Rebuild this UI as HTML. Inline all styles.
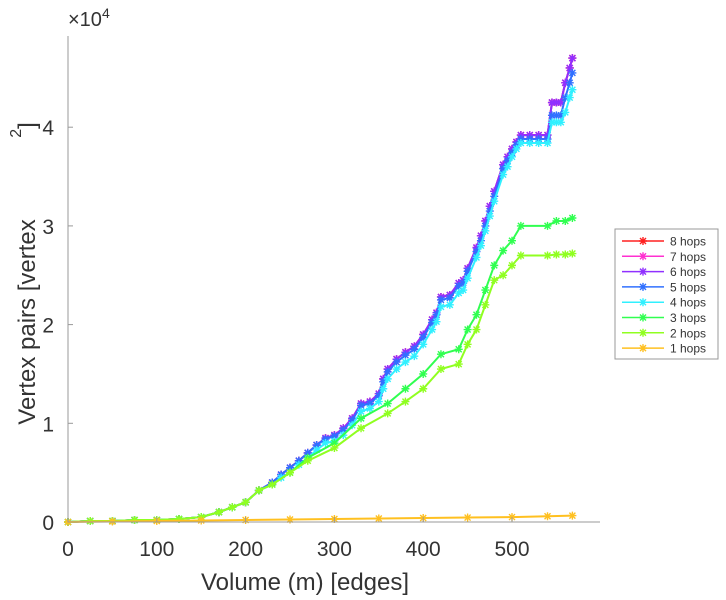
<!DOCTYPE html>
<html><head><meta charset="utf-8"><style>
body{margin:0;background:#fff;}
svg{display:block;font-family:"Liberation Sans",sans-serif;}
</style></head><body>
<svg id="chart" width="726" height="600">
<g id="plot"></g>
</svg>
<script>
const xTicks=[0,100,200,300,400,500];
const yTicks=[0,1,2,3,4];
const seriesNames=["8 hops","7 hops","6 hops","5 hops","4 hops","3 hops","2 hops","1 hops"];
const seriesColors=["#ff2020","#ff30d0","#9030ff","#3070ff","#30f0ff","#30ff50","#90ff20","#ffc020"];
const xUpper=[0,25,50,75,100,125,150,170,185,200,215,230,240,250,260,270,280,290,300,310,320,330,340,350,355,360,370,380,390,400,410,415,420,430,440,445,450,460,465,470,475,480,490,495,500,505,510,520,530,540,545,550,555,560,565,568];
const s8=[0,0.01,0.01,0.02,0.02,0.03,0.05,0.1,0.15,0.2,0.32,0.4,0.48,0.55,0.62,0.7,0.78,0.85,0.88,0.95,1.05,1.2,1.22,1.3,1.45,1.55,1.65,1.72,1.78,1.9,2.05,2.12,2.28,2.3,2.42,2.45,2.57,2.78,2.9,3.05,3.2,3.35,3.62,3.7,3.78,3.85,3.92,3.92,3.92,3.92,4.25,4.25,4.25,4.45,4.6,4.7];
const s7=s8.slice();
const s6=s8.slice();
const s5=[0,0.01,0.01,0.02,0.02,0.03,0.05,0.1,0.15,0.2,0.32,0.4,0.48,0.55,0.62,0.7,0.78,0.84,0.87,0.93,1.03,1.18,1.2,1.28,1.42,1.52,1.62,1.69,1.75,1.87,2.02,2.1,2.25,2.27,2.39,2.42,2.54,2.74,2.85,3.0,3.15,3.3,3.58,3.66,3.74,3.82,3.88,3.88,3.88,3.88,4.12,4.12,4.12,4.3,4.45,4.55];
const s4=[0,0.01,0.01,0.02,0.02,0.03,0.05,0.1,0.15,0.2,0.32,0.38,0.45,0.5,0.58,0.65,0.73,0.8,0.82,0.88,0.98,1.12,1.15,1.22,1.35,1.45,1.55,1.62,1.68,1.8,1.95,2.03,2.18,2.2,2.32,2.35,2.47,2.68,2.8,2.95,3.1,3.25,3.52,3.6,3.7,3.78,3.84,3.84,3.84,3.84,4.05,4.05,4.05,4.15,4.3,4.38];
const x3=[0,25,50,75,100,125,150,170,185,200,215,230,250,270,300,330,360,380,400,420,440,450,460,470,480,490,500,510,540,550,560,568];
const s3=[0,0.01,0.01,0.02,0.02,0.03,0.05,0.1,0.15,0.2,0.32,0.38,0.5,0.65,0.8,1.05,1.2,1.35,1.5,1.7,1.75,1.95,2.1,2.35,2.6,2.75,2.85,3.0,3.0,3.05,3.05,3.08];
const s2=[0,0.01,0.01,0.02,0.02,0.03,0.05,0.1,0.15,0.2,0.32,0.38,0.5,0.62,0.75,0.95,1.1,1.22,1.35,1.55,1.6,1.8,1.95,2.2,2.45,2.5,2.6,2.7,2.7,2.71,2.71,2.72];
const x1=[0,50,100,150,200,250,300,350,400,450,500,540,568];
const s1=[0,0.005,0.01,0.015,0.02,0.025,0.03,0.035,0.04,0.045,0.05,0.058,0.065];
const X0=68,X1=600,Y0=522,Y1=36;
const xs=v=>X0+v*0.888;
const ys=v=>Y0-v*98.7;
const NS="http://www.w3.org/2000/svg";
const svg=document.getElementById('chart');
function mk(t,a,p){const e=document.createElementNS(NS,t);for(const k in a)e.setAttribute(k,a[k]);(p||svg).appendChild(e);return e;}
const ax=mk('path',{d:`M${X0} ${Y1}V${Y0}H${X1}`,stroke:'#999',fill:'none','stroke-width':1});


xTicks.forEach(t=>{
 const l=mk('line',{x1:xs(t),x2:xs(t),y1:Y0,y2:Y0-5,stroke:'#999'});
 
 
 const tx=mk('text',{x:xs(t),y:Y0+34,'font-size':21,fill:'#333','text-anchor':'middle'});tx.textContent=t;
 
 
});
yTicks.forEach(t=>{
 const l=mk('line',{x1:X0,x2:X0+5,y1:ys(t),y2:ys(t),stroke:'#999'});
 
 
 const tx=mk('text',{x:X0-14,y:ys(t)+8,'font-size':21,fill:'#333','text-anchor':'end'});tx.textContent=t;
 
 
});
const ex=mk('text',{x:68,y:26,'font-size':20,fill:'#333'});ex.innerHTML='×10<tspan font-size="14" dy="-8">4</tspan>';


const xl=mk('text',{x:305,y:590,'font-size':24,fill:'#333','text-anchor':'middle'});xl.textContent='Volume (m) [edges]';


const yl=mk('text',{x:0,y:0,'font-size':24,fill:'#333','text-anchor':'middle',transform:'translate(35,322) rotate(-90)'});yl.textContent='Vertex pairs [vertex';


const yl2=mk('text',{x:0,y:0,'font-size':24,fill:'#333','text-anchor':'middle',transform:'translate(35,130) rotate(-90)'});yl2.innerHTML='<tspan font-size="16" dy="-14">2</tspan><tspan dy="14">]</tspan>';


const plot=document.getElementById('plot');
const data=[[xUpper,s8],[xUpper,s7],[xUpper,s6],[xUpper,s5],[xUpper,s4],[x3,s3],[x3,s2],[x1,s1]];
function star(cx,cy,c,p){
 return mk('path',{d:`M${cx-4} ${cy}h8M${cx} ${cy-4}v8M${cx-3} ${cy-3}l6 6M${cx-3} ${cy+3}l6 -6`,stroke:c,'stroke-width':1.4,fill:'none'},p);
}
for(let i=0;i<data.length;i++){
 const [xv,yv]=data[i];
 const g=mk('g',{},plot);
 
 
 const d=xv.map((x,j)=>(j?'L':'M')+xs(x)+' '+ys(yv[j])).join('');
 mk('path',{d:d,stroke:seriesColors[i],'stroke-width':2,fill:'none'},g);
 xv.forEach((x,j)=>{const m=star(xs(x),ys(yv[j]),seriesColors[i],g);
  
  });
}
const lg=mk('g',{});


mk('rect',{x:615,y:229,width:103,height:130,fill:'#fff',stroke:'#999'},lg);
seriesNames.forEach((n,i)=>{
 const y=241+i*15.3;
 const e=mk('g',{},lg);
 
 
 mk('line',{x1:622,x2:664,y1:y,y2:y,stroke:seriesColors[i],'stroke-width':1.5},e);
 star(643,y,seriesColors[i],e);
 const t=mk('text',{x:670,y:y+4.5,'font-size':12,fill:'#333'},e);t.textContent=n;
});
</script>
</body></html>
